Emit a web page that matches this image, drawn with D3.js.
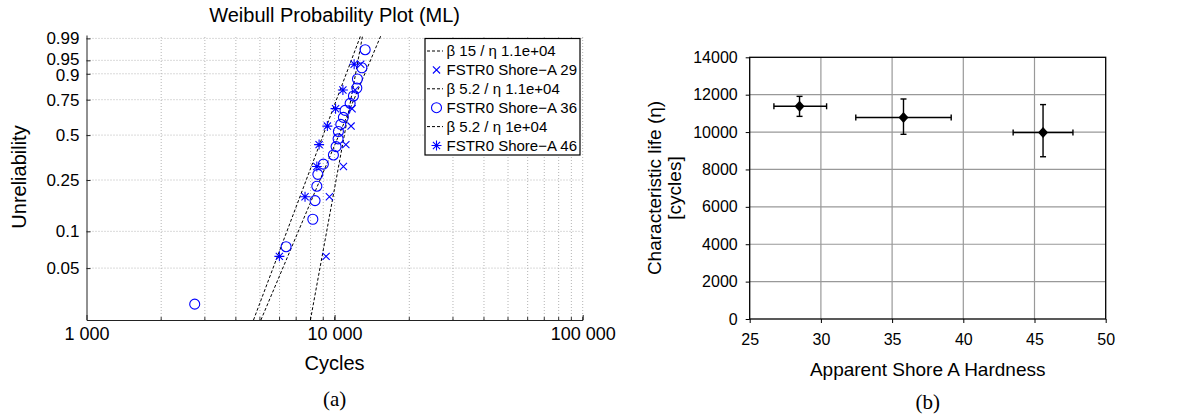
<!DOCTYPE html>
<html>
<head>
<meta charset="utf-8">
<script src="https://cdnjs.cloudflare.com/ajax/libs/d3/7.8.5/d3.min.js"></script>
<style>
  body { margin: 0; background: #fff; }
  svg { display: block; }
</style>
</head>
<body>
<div id="chart"></div>
<script>
// ---- data (a): Weibull probability plot ----
var cycleDomain = [1000, 100000];
var probDomain = [0.0184, 0.9927];
var probTicks = [0.05, 0.1, 0.25, 0.5, 0.75, 0.9, 0.95, 0.99];
var cycleTicks = [1000, 10000, 100000];
var cycleTickLabels = ["1 000", "10 000", "100 000"];

var shore29Cycles = [9240, 9530, 10850, 11100, 11650, 11760, 12100, 12750];
var shore29Prob = [0.0625, 0.1875, 0.3125, 0.4375, 0.5625, 0.6875, 0.8125, 0.9375];
var shore36Cycles = [2730, 6375, 8170, 8340, 8480, 8560, 9010, 9890, 10140, 10330,
                     10360, 10590, 10850, 11020, 11550, 11910, 12290, 12360, 12880, 13280];
var shore36Prob = [0.025, 0.075, 0.125, 0.175, 0.225, 0.275, 0.325, 0.375, 0.425, 0.475,
                   0.525, 0.575, 0.625, 0.675, 0.725, 0.775, 0.825, 0.875, 0.925, 0.975];
var shore46Cycles = [5990, 7600, 8480, 8660, 9350, 10090, 10800, 11990];
var shore46Prob = [0.0625, 0.1875, 0.3125, 0.4375, 0.5625, 0.6875, 0.8125, 0.9375];

// fitted lines as drawn in the picture (legend shows rounded values)
var fitBeta = [11.5, 5.0, 5.6];
var fitEta = [11300, 11200, 9600];
var legendLabels = ["\u03b2 15 / \u03b7 1.1e+04", "FSTR0 Shore\u2212A 29",
                    "\u03b2 5.2 / \u03b7 1.1e+04", "FSTR0 Shore\u2212A 36",
                    "\u03b2 5.2 / \u03b7 1e+04", "FSTR0 Shore\u2212A 46"];

// ---- data (b): characteristic life vs hardness ----
var hardness = [28.5, 35.8, 45.6];
var hardLow = [26.7, 32.45, 43.5];
var hardHigh = [30.4, 39.15, 47.7];
var charLife = [11380, 10780, 9980];
var lifeLow = [10840, 9880, 8680];
var lifeHigh = [11910, 11770, 11470];
var hardTicks = [25, 30, 35, 40, 45, 50];
var lifeTicks = [0, 2000, 4000, 6000, 8000, 10000, 12000, 14000];

var sans = "'Liberation Sans', Arial, Helvetica, sans-serif";
var serif = "'Liberation Serif', 'Times New Roman', serif";
var blue = "#0000ff";

var svg = d3.select("#chart").append("svg")
    .attr("width", 1191)
    .attr("height", 420)
    .style("font-family", sans);

// ================= (a) =================
var wt = function(p) { return Math.log(-Math.log(1 - p)); };

var xL = d3.scaleLog().domain(cycleDomain).range([86.5, 582.7]);
var yL = d3.scaleLinear().domain([wt(probDomain[0]), wt(probDomain[1])]).range([320, 35]);

var gA = svg.append("g");

gA.append("clipPath").attr("id", "clipA")
  .append("rect")
  .attr("x", xL.range()[0]).attr("y", yL.range()[1])
  .attr("width", xL.range()[1] - xL.range()[0])
  .attr("height", yL.range()[0] - yL.range()[1]);

// grid
var minor = xL.ticks().filter(function(d) { return d > cycleDomain[0]; });
gA.append("g").selectAll("line")
  .data(minor)
  .enter().append("line")
  .attr("x1", function(d) { return xL(d); })
  .attr("x2", function(d) { return xL(d); })
  .attr("y1", yL.range()[0]).attr("y2", yL.range()[1])
  .attr("stroke", "#b4b4b4").attr("stroke-width", 1)
  .attr("stroke-dasharray", "1,2");

gA.append("g").selectAll("line")
  .data(probTicks)
  .enter().append("line")
  .attr("x1", xL.range()[0]).attr("x2", xL.range()[1])
  .attr("y1", function(d) { return yL(wt(d)); })
  .attr("y2", function(d) { return yL(wt(d)); })
  .attr("stroke", "#b4b4b4").attr("stroke-width", 1)
  .attr("stroke-dasharray", "1,2");

// minor ticks on bottom
gA.append("g").selectAll("line")
  .data(minor)
  .enter().append("line")
  .attr("x1", function(d) { return xL(d); })
  .attr("x2", function(d) { return xL(d); })
  .attr("y1", yL.range()[0]).attr("y2", yL.range()[0] - 3)
  .attr("stroke", "#333");

// fit lines
var tEnds = yL.domain();
var fitLines = fitBeta.map(function(b, i) {
  return tEnds.map(function(t) {
    return { c: fitEta[i] * Math.exp(t / b), t: t };
  });
});
var lineGen = d3.line()
  .x(function(d) { return xL(d.c); })
  .y(function(d) { return yL(d.t); });

gA.append("g").attr("clip-path", "url(#clipA)")
  .selectAll("path")
  .data(fitLines)
  .enter().append("path")
  .attr("d", lineGen)
  .attr("fill", "none")
  .attr("stroke", "#000")
  .attr("stroke-width", 1)
  .attr("stroke-dasharray", "3,2");

// marker shapes
function crossPath(s) {
  return "M" + (-s) + "," + (-s) + "L" + s + "," + s + "M" + (-s) + "," + s + "L" + s + "," + (-s);
}
function starPath(s) {
  var d = s * 0.72;
  return "M0," + (-s) + "V" + s + "M" + (-s) + ",0H" + s +
         "M" + (-d) + "," + (-d) + "L" + d + "," + d + "M" + (-d) + "," + d + "L" + d + "," + (-d);
}

var pts = gA.append("g");

function pairs(cs, ps) { return cs.map(function(c, i) { return { c: c, p: ps[i] }; }); }

pts.selectAll(".mx")
  .data(pairs(shore29Cycles, shore29Prob))
  .enter().append("path")
  .attr("class", "mx")
  .attr("transform", function(d) { return "translate(" + xL(d.c) + "," + yL(wt(d.p)) + ")"; })
  .attr("d", crossPath(3.6))
  .attr("stroke", blue).attr("stroke-width", 1.1).attr("fill", "none");

pts.selectAll(".mo")
  .data(pairs(shore36Cycles, shore36Prob))
  .enter().append("circle")
  .attr("class", "mo")
  .attr("cx", function(d) { return xL(d.c); })
  .attr("cy", function(d) { return yL(wt(d.p)); })
  .attr("r", 5)
  .attr("stroke", blue).attr("stroke-width", 1.1).attr("fill", "none");

pts.selectAll(".ms")
  .data(pairs(shore46Cycles, shore46Prob))
  .enter().append("path")
  .attr("class", "ms")
  .attr("transform", function(d) { return "translate(" + xL(d.c) + "," + yL(wt(d.p)) + ")"; })
  .attr("d", starPath(5))
  .attr("stroke", blue).attr("stroke-width", 1.1).attr("fill", "none");

// axes
var axL = gA.append("g")
  .attr("transform", "translate(" + xL.range()[0] + ",0)")
  .call(d3.axisLeft(yL)
    .tickValues(probTicks.map(wt))
    .tickFormat(function(d, i) { return probTicks[i]; })
    .tickSizeInner(-4).tickSizeOuter(0).tickPadding(7));
axL.select(".domain").attr("stroke", "#222");
axL.selectAll(".tick line").attr("stroke", "#222");
axL.selectAll("text").style("font-size", "17px").style("font-family", sans).attr("fill", "#000");
// the 0.95 / 0.9 labels sit very close: nudge them apart a little
axL.selectAll("text")
  .attr("dy", function(d, i) {
    if (probTicks[i] === 0.95) return "0.22em";
    if (probTicks[i] === 0.9) return "0.42em";
    return "0.32em";
  });

var axB = gA.append("g")
  .attr("transform", "translate(0," + yL.range()[0] + ")")
  .call(d3.axisBottom(xL)
    .tickValues(cycleTicks)
    .tickFormat(function(d, i) { return cycleTickLabels[i]; })
    .tickSizeInner(-5).tickSizeOuter(0).tickPadding(7));
axB.select(".domain").attr("stroke", "#222");
axB.selectAll(".tick line").attr("stroke", "#222");
axB.selectAll("text").style("font-size", "18px").style("font-family", sans).attr("fill", "#000");

gA.append("text")
  .attr("x", 334.6).attr("y", 22)
  .attr("text-anchor", "middle")
  .style("font-size", "20px")
  .text("Weibull Probability Plot (ML)");

gA.append("text")
  .attr("x", 334.6).attr("y", 370)
  .attr("text-anchor", "middle")
  .style("font-size", "20px")
  .text("Cycles");

gA.append("text")
  .attr("transform", "translate(26,177) rotate(-90)")
  .attr("text-anchor", "middle")
  .style("font-size", "20px")
  .text("Unreliability");

gA.append("text")
  .attr("x", 334.6).attr("y", 406)
  .attr("text-anchor", "middle")
  .style("font-family", serif)
  .style("font-size", "21px")
  .text("(a)");

// legend
var leg = gA.append("g").attr("transform", "translate(425,38.5)");
leg.append("rect")
  .attr("width", 155).attr("height", 116.5)
  .attr("fill", "#fff").attr("stroke", "#000").attr("stroke-width", 1.2);

var rows = leg.selectAll(".row")
  .data(legendLabels)
  .enter().append("g")
  .attr("class", "row")
  .attr("transform", function(d, i) { return "translate(0," + (12.5 + i * 18.9) + ")"; });

rows.append("text")
  .attr("x", 21.5).attr("dy", "0.35em")
  .style("font-size", "15px")
  .text(function(d) { return d; });

rows.filter(function(d, i) { return i % 2 === 0; })
  .append("line")
  .attr("x1", 2).attr("x2", 18)
  .attr("stroke", "#000").attr("stroke-dasharray", "3,2");

var markerKinds = ["", "x", "", "o", "", "s"];
rows.each(function(d, i) {
  var g = d3.select(this);
  if (markerKinds[i] === "x") {
    g.append("path").attr("transform", "translate(11.5,0)").attr("d", crossPath(3.6))
      .attr("stroke", blue).attr("stroke-width", 1.1);
  } else if (markerKinds[i] === "o") {
    g.append("circle").attr("cx", 11.5).attr("r", 5)
      .attr("stroke", blue).attr("stroke-width", 1.1).attr("fill", "none");
  } else if (markerKinds[i] === "s") {
    g.append("path").attr("transform", "translate(11.5,0)").attr("d", starPath(5))
      .attr("stroke", blue).attr("stroke-width", 1.1);
  }
});

// ================= (b) =================
var xR = d3.scaleLinear().domain([25, 50]).range([749.7, 1105.7]);
var yR = d3.scaleLinear().domain([0, 14000]).range([319, 57.3]);

var gB = svg.append("g");

gB.append("g").selectAll("line")
  .data(hardTicks.slice(1, -1))
  .enter().append("line")
  .attr("x1", function(d) { return xR(d); }).attr("x2", function(d) { return xR(d); })
  .attr("y1", yR.range()[0]).attr("y2", yR.range()[1])
  .attr("stroke", "#999").attr("stroke-width", 1.2);

gB.append("g").selectAll("line")
  .data(lifeTicks.slice(1, -1))
  .enter().append("line")
  .attr("x1", xR.range()[0]).attr("x2", xR.range()[1])
  .attr("y1", function(d) { return yR(d); }).attr("y2", function(d) { return yR(d); })
  .attr("stroke", "#999").attr("stroke-width", 1.2);

gB.append("rect")
  .attr("x", xR.range()[0]).attr("y", yR.range()[1])
  .attr("width", xR.range()[1] - xR.range()[0])
  .attr("height", yR.range()[0] - yR.range()[1])
  .attr("fill", "none").attr("stroke", "#000").attr("stroke-width", 1.3);

var axRL = gB.append("g")
  .attr("transform", "translate(" + xR.range()[0] + ",0)")
  .call(d3.axisLeft(yR).tickValues(lifeTicks).tickFormat(d3.format("d"))
    .tickSizeInner(4).tickSizeOuter(0).tickPadding(8));
axRL.select(".domain").remove();
axRL.selectAll(".tick line").attr("stroke", "#000");
axRL.selectAll("text").style("font-size", "16px").style("font-family", sans).attr("fill", "#000");

var axRB = gB.append("g")
  .attr("transform", "translate(0," + yR.range()[0] + ")")
  .call(d3.axisBottom(xR).tickValues(hardTicks).tickFormat(d3.format("d"))
    .tickSizeInner(4).tickSizeOuter(0).tickPadding(11));
axRB.select(".domain").remove();
axRB.selectAll(".tick line").attr("stroke", "#000");
axRB.selectAll("text").style("font-size", "16px").style("font-family", sans).attr("fill", "#000");

// error bars
var errData = hardness.map(function(h, i) {
  return { h: h, hl: hardLow[i], hh: hardHigh[i], l: charLife[i], ll: lifeLow[i], lh: lifeHigh[i] };
});
var eb = gB.append("g").attr("stroke", "#000").attr("stroke-width", 1.4);
var cap = 3;
errData.forEach(function(d) {
  eb.append("line").attr("x1", xR(d.hl)).attr("x2", xR(d.hh)).attr("y1", yR(d.l)).attr("y2", yR(d.l));
  eb.append("line").attr("x1", xR(d.hl)).attr("x2", xR(d.hl)).attr("y1", yR(d.l) - cap).attr("y2", yR(d.l) + cap);
  eb.append("line").attr("x1", xR(d.hh)).attr("x2", xR(d.hh)).attr("y1", yR(d.l) - cap).attr("y2", yR(d.l) + cap);
  eb.append("line").attr("x1", xR(d.h)).attr("x2", xR(d.h)).attr("y1", yR(d.ll)).attr("y2", yR(d.lh));
  eb.append("line").attr("x1", xR(d.h) - cap).attr("x2", xR(d.h) + cap).attr("y1", yR(d.ll)).attr("y2", yR(d.ll));
  eb.append("line").attr("x1", xR(d.h) - cap).attr("x2", xR(d.h) + cap).attr("y1", yR(d.lh)).attr("y2", yR(d.lh));
});

gB.append("g").selectAll("path")
  .data(errData)
  .enter().append("path")
  .attr("transform", function(d) { return "translate(" + xR(d.h) + "," + yR(d.l) + ")"; })
  .attr("d", "M0,-5.5L5,0L0,5.5L-5,0Z")
  .attr("fill", "#000");

gB.append("text")
  .attr("x", 927.7).attr("y", 376)
  .attr("text-anchor", "middle")
  .style("font-size", "19px")
  .text("Apparent Shore A Hardness");

gB.append("text")
  .attr("transform", "translate(661,188) rotate(-90)")
  .attr("text-anchor", "middle")
  .style("font-size", "19px")
  .text("Characteristic life (\u03b7)");

gB.append("text")
  .attr("transform", "translate(681,188) rotate(-90)")
  .attr("text-anchor", "middle")
  .style("font-size", "19px")
  .text("[cycles]");

gB.append("text")
  .attr("x", 927.7).attr("y", 409)
  .attr("text-anchor", "middle")
  .style("font-family", serif)
  .style("font-size", "21px")
  .text("(b)");
</script>
</body>
</html>
